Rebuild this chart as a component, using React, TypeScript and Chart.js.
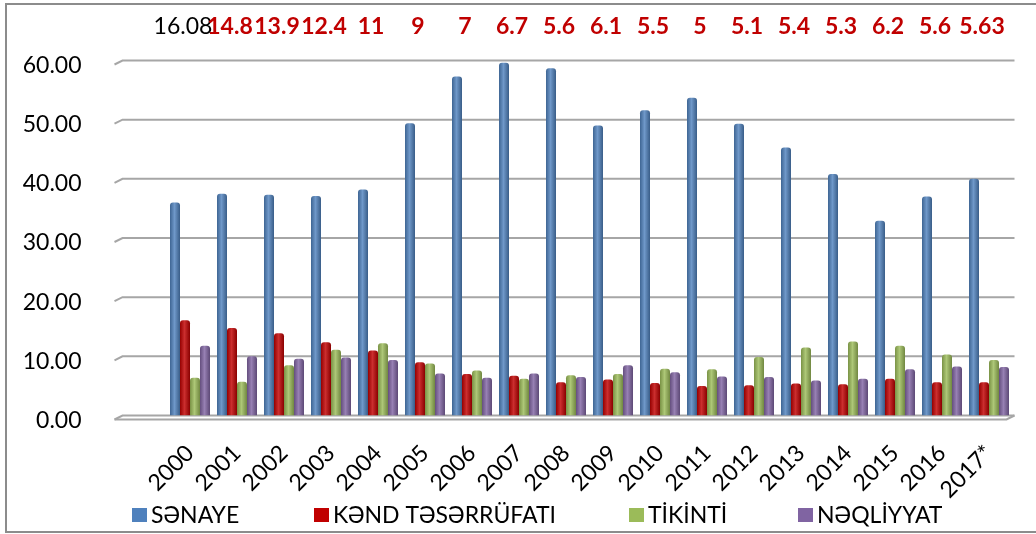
import React, { useEffect, useRef } from "react";
import { Chart, registerables } from "chart.js";

Chart.register(...registerables);

const years = [
  "2000", "2001", "2002", "2003", "2004", "2005", "2006", "2007", "2008",
  "2009", "2010", "2011", "2012", "2013", "2014", "2015", "2016", "2017*",
];
const industry = [36.0, 37.5, 37.3, 37.1, 38.2, 49.4, 57.3, 59.6, 58.7, 49.0, 51.6, 53.7, 49.3, 45.3, 40.8, 32.9, 37.0, 40.0];
const agriculture = [16.08, 14.8, 13.9, 12.4, 11, 9, 7, 6.7, 5.6, 6.1, 5.5, 5, 5.1, 5.4, 5.3, 6.2, 5.6, 5.63];
const construction = [6.4, 5.7, 8.5, 11.1, 12.2, 8.8, 7.6, 6.2, 6.8, 7.0, 7.9, 7.8, 9.9, 11.5, 12.5, 11.8, 10.3, 9.4];
const transport = [11.8, 10.0, 9.6, 9.8, 9.4, 7.1, 6.4, 7.1, 6.5, 8.5, 7.3, 6.6, 6.5, 5.9, 6.2, 7.8, 8.3, 8.2];

const seriesNames = ["SƏNAYE", "KƏND TƏSƏRRÜFATI", "TİKİNTİ", "NƏQLİYYAT"];
const seriesColors = ["#4f81bd", "#c00000", "#9bbb59", "#8064a2"];
const yTicks = [0, 10, 20, 30, 40, 50, 60];
const topLabels = agriculture.map((v) => String(v));

const FONT = "Lato, 'Noto Sans', 'DejaVu Sans', sans-serif";
const CAT_PCT = 0.851;

function shade(hex: string, amt: number): string {
  const n = parseInt(hex.slice(1), 16);
  let r = (n >> 16) & 255, g = (n >> 8) & 255, b = n & 255;
  const t = amt < 0 ? 0 : 255;
  const p = Math.abs(amt);
  r = Math.round(r + (t - r) * p);
  g = Math.round(g + (t - g) * p);
  b = Math.round(b + (t - b) * p);
  return `rgb(${r},${g},${b})`;
}

const gridPlugin = {
  id: "grid3d",
  beforeDatasetsDraw(chart: any) {
    const { ctx, chartArea, scales } = chart;
    const y = scales.y;
    ctx.save();
    ctx.strokeStyle = "#a6a6a6";
    ctx.lineWidth = 2;
    yTicks.forEach((v) => {
      const py = y.getPixelForValue(v);
      ctx.beginPath();
      ctx.moveTo(chartArea.left - 52, py + 4);
      ctx.lineTo(chartArea.left - 44, py);
      ctx.lineTo(chartArea.right + 2, py);
      ctx.stroke();
    });
    const p0 = y.getPixelForValue(0);
    ctx.beginPath();
    ctx.moveTo(chartArea.left - 52, p0 + 4);
    ctx.lineTo(chartArea.right - 6, p0 + 4);
    ctx.lineTo(chartArea.right + 2, p0);
    ctx.stroke();
    ctx.restore();
  },
};

const topLabelPlugin = {
  id: "topLabels",
  afterDraw(chart: any) {
    const { ctx, scales } = chart;
    const x = scales.x;
    ctx.save();
    ctx.textAlign = "center";
    ctx.textBaseline = "middle";
    topLabels.forEach((t, i) => {
      const px = x.getPixelForValue(i) - 7;
      if (i === 0) {
        ctx.fillStyle = "#000000";
        ctx.font = `23px ${FONT}`;
      } else {
        ctx.fillStyle = "#c00000";
        ctx.font = `bold 23px ${FONT}`;
      }
      ctx.fillText(t, px, 27);
    });
    ctx.restore();
  },
};

const legendPlugin = {
  id: "customLegend",
  afterDraw(chart: any) {
    const { ctx } = chart;
    const starts = [132, 314, 629, 798];
    ctx.save();
    ctx.font = `23px ${FONT}`;
    ctx.textAlign = "left";
    ctx.textBaseline = "middle";
    chart.data.datasets.forEach((ds: any, i: number) => {
      const bx = starts[i];
      ctx.fillStyle = seriesColors[i];
      ctx.fillRect(bx, 508, 15, 14);
      ctx.fillStyle = "#000000";
      ctx.fillText(ds.label, bx + 19, 516);
    });
    ctx.restore();
  },
};

function barColor(ctx: any) {
  const base = seriesColors[ctx.datasetIndex];
  const chart = ctx.chart;
  const xs = chart.scales && chart.scales.x;
  if (!xs || ctx.type !== "data" || !xs.width) return base;
  const cat = xs.width / years.length;
  const group = cat * CAT_PCT;
  const bw = group / 4;
  const left = xs.getPixelForValue(ctx.dataIndex) - group / 2 + ctx.datasetIndex * bw;
  const g = chart.ctx.createLinearGradient(left, 0, left + bw, 0);
  g.addColorStop(0, shade(base, -0.22));
  g.addColorStop(0.45, shade(base, 0.18));
  g.addColorStop(1, shade(base, -0.28));
  return g;
}

export default function App() {
  const ref = useRef<HTMLCanvasElement | null>(null);

  useEffect(() => {
    if (!ref.current) return;
    const series = [industry, agriculture, construction, transport];
    const chart = new Chart(ref.current, {
      type: "bar",
      data: {
        labels: years,
        datasets: series.map((d, i) => ({
          label: seriesNames[i],
          data: d,
          backgroundColor: barColor as any,
          borderWidth: 0,
          borderRadius: { topLeft: 3, topRight: 3, bottomLeft: 0, bottomRight: 0 },
          borderSkipped: false,
          categoryPercentage: CAT_PCT,
          barPercentage: 1.0,
        })),
      },
      options: {
        responsive: true,
        maintainAspectRatio: false,
        animation: false,
        layout: { padding: { top: 60.5, right: 23.5, bottom: 0, left: 0 } },
        plugins: {
          legend: { display: false },
          tooltip: { enabled: false },
          title: { display: false },
        },
        scales: {
          x: {
            offset: true,
            grid: { display: false },
            border: { display: false },
            ticks: {
              autoSkip: false,
              minRotation: 45,
              maxRotation: 45,
              padding: 16,
              color: "#000000",
              font: { family: FONT, size: 23 },
            },
            afterFit: (s: any) => {
              s.height = 118.5;
            },
          },
          y: {
            min: 0,
            max: 60,
            afterBuildTicks: (s: any) => {
              s.ticks = yTicks.map((v) => ({ value: v }));
            },
            grid: { display: false },
            border: { display: false },
            ticks: {
              padding: 77,
              labelOffset: 5,
              color: "#000000",
              font: { family: FONT, size: 23 },
              callback: (v: any) => Number(v).toFixed(2),
            },
            afterFit: (s: any) => {
              s.width = 166.5;
              s.paddingTop = 10;
              s.paddingBottom = 10;
            },
          },
        },
      },
      plugins: [gridPlugin, topLabelPlugin, legendPlugin],
    });
    return () => chart.destroy();
  }, []);

  return (
    <div
      style={{
        position: "fixed",
        left: 0,
        top: 0,
        width: 1036,
        height: 534,
        overflow: "hidden",
        background: "#ffffff",
      }}
    >
      <div style={{ position: "absolute", left: 0, top: 0, width: 1036, height: 534 }}>
        <canvas ref={ref} />
      </div>
      <div
        style={{
          position: "absolute",
          left: 5,
          top: 3,
          width: 1100,
          height: 530,
          border: "2px solid #8c8c8c",
          boxSizing: "border-box",
          pointerEvents: "none",
        }}
      />
    </div>
  );
}
